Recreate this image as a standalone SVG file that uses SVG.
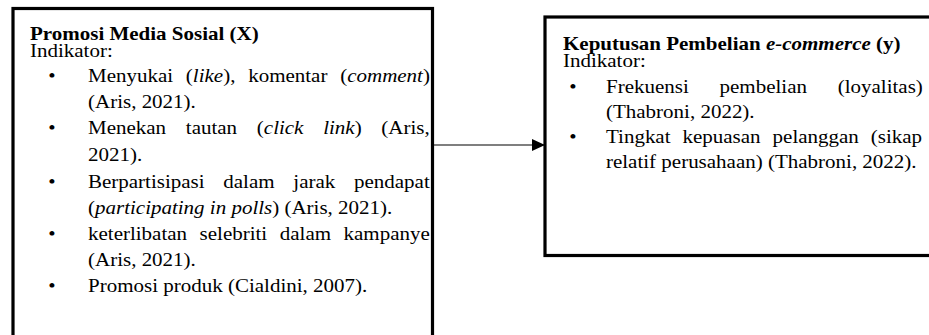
<svg xmlns="http://www.w3.org/2000/svg" width="929" height="335" viewBox="0 0 929 335">
<style>
.t{font-family:"Liberation Serif","Times New Roman",serif;font-size:19px;fill:#000}
.b{font-weight:bold}
.i{font-style:italic}
.box{fill:#fff;stroke:#000;stroke-width:3.2}
.con{stroke:#000;stroke-width:1.2;fill:none}
</style>
<defs>
<marker id="ah" markerWidth="13" markerHeight="12" refX="12" refY="6" orient="auto" markerUnits="userSpaceOnUse">
<path d="M0,0 L13,6 L0,12 Z" fill="#000"/>
</marker>
</defs>
<rect width="929" height="335" fill="#fff"/>
<g id="node-x">
<rect class="box" x="13" y="8.5" width="419.5" height="340"/>
<g transform="scale(1.105 1)">
<text class="t b" x="27.15" y="40">Promosi Media Sosial (X)</text>
<text class="t" x="27.15" y="57">Indikator:</text>
<text class="t" x="43.7" y="82.5">•</text>
<text class="t" x="79.64" y="82.5" word-spacing="6.8">Menyukai (<tspan class="i">like</tspan>), komentar (<tspan class="i">comment</tspan>)</text>
<text class="t" x="79.64" y="108.5">(Aris, 2021).</text>
<text class="t" x="43.7" y="134.5">•</text>
<text class="t" x="79.64" y="134.5" word-spacing="13.1">Menekan tautan (<tspan class="i">click link</tspan>) (Aris,</text>
<text class="t" x="79.64" y="161">2021).</text>
<text class="t" x="43.7" y="188">•</text>
<text class="t" x="79.64" y="188" word-spacing="12.2">Berpartisipasi dalam jarak pendapat</text>
<text class="t" x="79.64" y="214">(<tspan class="i">participating in polls</tspan>) (Aris, 2021).</text>
<text class="t" x="43.7" y="240.5">•</text>
<text class="t" x="79.64" y="240.5" word-spacing="6.6">keterlibatan selebriti dalam kampanye</text>
<text class="t" x="79.64" y="266.5">(Aris, 2021).</text>
<text class="t" x="43.7" y="292.5">•</text>
<text class="t" x="79.64" y="292.5">Promosi produk (Cialdini, 2007).</text>
</g>
</g>
<g id="node-y">
<rect class="box" x="545" y="17" width="400" height="238.5"/>
<g transform="scale(1.105 1)">
<text class="t b" x="509.5" y="50">Keputusan Pembelian <tspan class="i">e-commerce</tspan> (y)</text>
<text class="t" x="509.5" y="67">Indikator:</text>
<text class="t" x="515.2" y="93">•</text>
<text class="t" x="548.4" y="93" word-spacing="23.1">Frekuensi pembelian (loyalitas)</text>
<text class="t" x="548.4" y="118">(Thabroni, 2022).</text>
<text class="t" x="515.2" y="143">•</text>
<text class="t" x="548.4" y="143" word-spacing="6.1">Tingkat kepuasan pelanggan (sikap</text>
<text class="t" x="548.4" y="168">relatif perusahaan) (Thabroni, 2022).</text>
</g>
</g>
<g id="connectors">
<line class="con" x1="434" y1="145" x2="544" y2="145" marker-end="url(#ah)"/>
</g>
</svg>
